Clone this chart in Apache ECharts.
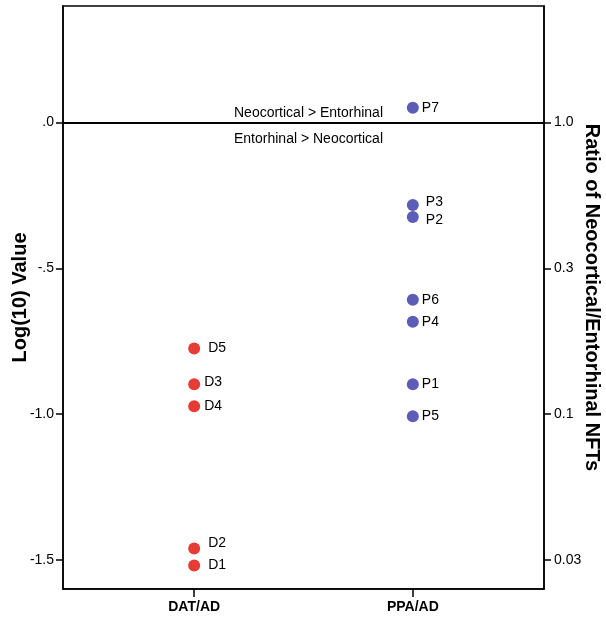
<!DOCTYPE html>
<html>
<head>
<meta charset="utf-8">
<script src="https://cdn.jsdelivr.net/npm/echarts@6/dist/echarts.min.js"></script>
<style>html,body{margin:0;padding:0;background:#fff}#c{width:606px;height:617px}</style>
</head>
<body>
<div id="c"></div>
<script>
var categories = ['DAT/AD', 'PPA/AD'];
var datLabels = ['D1', 'D2', 'D3', 'D4', 'D5'];
var datValues = [-1.519, -1.461, -0.898, -0.973, -0.775];
var ppaLabels = ['P1', 'P2', 'P3', 'P4', 'P5', 'P6', 'P7'];
var ppaValues = [-0.898, -0.324, -0.283, -0.683, -1.007, -0.608, 0.051];
var leftTicks = [0, -0.5, -1.0, -1.5];
var leftTickLabels = ['.0', '-.5', '-1.0', '-1.5'];
var rightTickLabels = ['1.0', '0.3', '0.1', '0.03'];
var upperNote = 'Neocortical > Entorhinal';
var lowerNote = 'Entorhinal > Neocortical';

var labelOffsets = {
  D1: [5, 0], D2: [5, -5], D3: [1, -2], D4: [1, 0], D5: [5, 0],
  P1: [0, 0], P2: [4, 3], P3: [4, -3], P4: [0, 0], P5: [0, 0], P6: [0, 0], P7: [0, 0]
};

function pts(xIdx, names, vals) {
  return vals.map(function (v, i) {
    return {
      name: names[i],
      value: [xIdx, v],
      label: { offset: labelOffsets[names[i]] || [0, 0] }
    };
  });
}
function lookup(ticks, labels, v) {
  for (var i = 0; i < ticks.length; i++) if (Math.abs(ticks[i] - v) < 1e-6) return labels[i];
  return '';
}

var FONT = '"Liberation Sans", Arial, sans-serif';
var chart = echarts.init(document.getElementById('c'), null, { renderer: 'canvas' });
chart.setOption({
  animation: false,
  backgroundColor: '#fff',
  grid: { left: 63, right: 62, top: 6, bottom: 28, containLabel: false, outerBoundsMode: 'none',
    show: true, borderColor: '#000', borderWidth: 1.5, backgroundColor: 'transparent' },
  xAxis: {
    type: 'value', min: -0.6, max: 1.6,
    splitLine: { show: false },
    axisLine: { show: true, onZero: false, lineStyle: { color: '#000', width: 1.5 } },
    axisTick: { show: true, length: 8, customValues: [0, 1], lineStyle: { color: '#000', width: 1.5 } },
    axisLabel: { customValues: [0, 1], margin: 11, color: '#000', fontFamily: FONT, fontWeight: 'bold', fontSize: 14,
      formatter: function (v) { return categories[Math.round(v)] || ''; } }
  },
  yAxis: [{
    type: 'value', min: -1.6, max: 0.4, position: 'left',
    name: 'Log(10) Value', nameLocation: 'middle', nameGap: 33, nameRotate: 90, nameMoveOverlap: false,
    nameTextStyle: { color: '#000', fontFamily: FONT, fontWeight: 'bold', fontSize: 20 },
    splitLine: { show: false },
    axisLine: { show: true, onZero: false, lineStyle: { color: '#000', width: 1.5 } },
    axisTick: { show: true, length: 7, customValues: leftTicks, lineStyle: { color: '#000', width: 1.5 } },
    axisLabel: { customValues: leftTicks, margin: 9, color: '#000', fontFamily: FONT, fontSize: 14,
      formatter: function (v) { return lookup(leftTicks, leftTickLabels, v); } }
  }, {
    type: 'value', min: -1.6, max: 0.4, position: 'right',
    name: 'Ratio of Neocortical/Entorhinal NFTs', nameLocation: 'middle', nameGap: 38, nameRotate: -90, nameMoveOverlap: false,
    nameTextStyle: { color: '#000', fontFamily: FONT, fontWeight: 'bold', fontSize: 20 },
    splitLine: { show: false },
    axisLine: { show: true, onZero: false, lineStyle: { color: '#000', width: 1.5 } },
    axisTick: { show: true, length: 7, customValues: leftTicks, lineStyle: { color: '#000', width: 1.5 } },
    axisLabel: { customValues: leftTicks, margin: 10, color: '#000', fontFamily: FONT, fontSize: 14,
      formatter: function (v) { return lookup(leftTicks, rightTickLabels, v); } }
  }],
  series: [{
    type: 'scatter', name: 'DAT/AD', symbolSize: 12,
    itemStyle: { color: '#e53c36', opacity: 1 },
    label: { show: true, position: 'right', distance: 3, color: '#000', fontFamily: FONT, fontSize: 14,
      formatter: function (p) { return p.name; } },
    data: pts(0, datLabels, datValues),
    markLine: {
      silent: true, symbol: 'none',
      lineStyle: { color: '#000', width: 2, type: 'solid', opacity: 1 },
      label: { color: '#000', fontFamily: FONT, fontSize: 14 },
      emphasis: { disabled: true },
      data: [
        { yAxis: 0, label: { position: 'insideMiddleTop', color: '#000', formatter: upperNote, distance: 2, offset: [5, 0] } },
        { yAxis: 0, label: { position: 'insideMiddleBottom', color: '#000', formatter: lowerNote, distance: 10, offset: [5, 0] } }
      ]
    }
  }, {
    type: 'scatter', name: 'PPA/AD', symbolSize: 12,
    itemStyle: { color: '#5b5db6', opacity: 1 },
    label: { show: true, position: 'right', distance: 3, color: '#000', fontFamily: FONT, fontSize: 14,
      formatter: function (p) { return p.name; } },
    data: pts(1, ppaLabels, ppaValues)
  }]
});
</script>
</body>
</html>
